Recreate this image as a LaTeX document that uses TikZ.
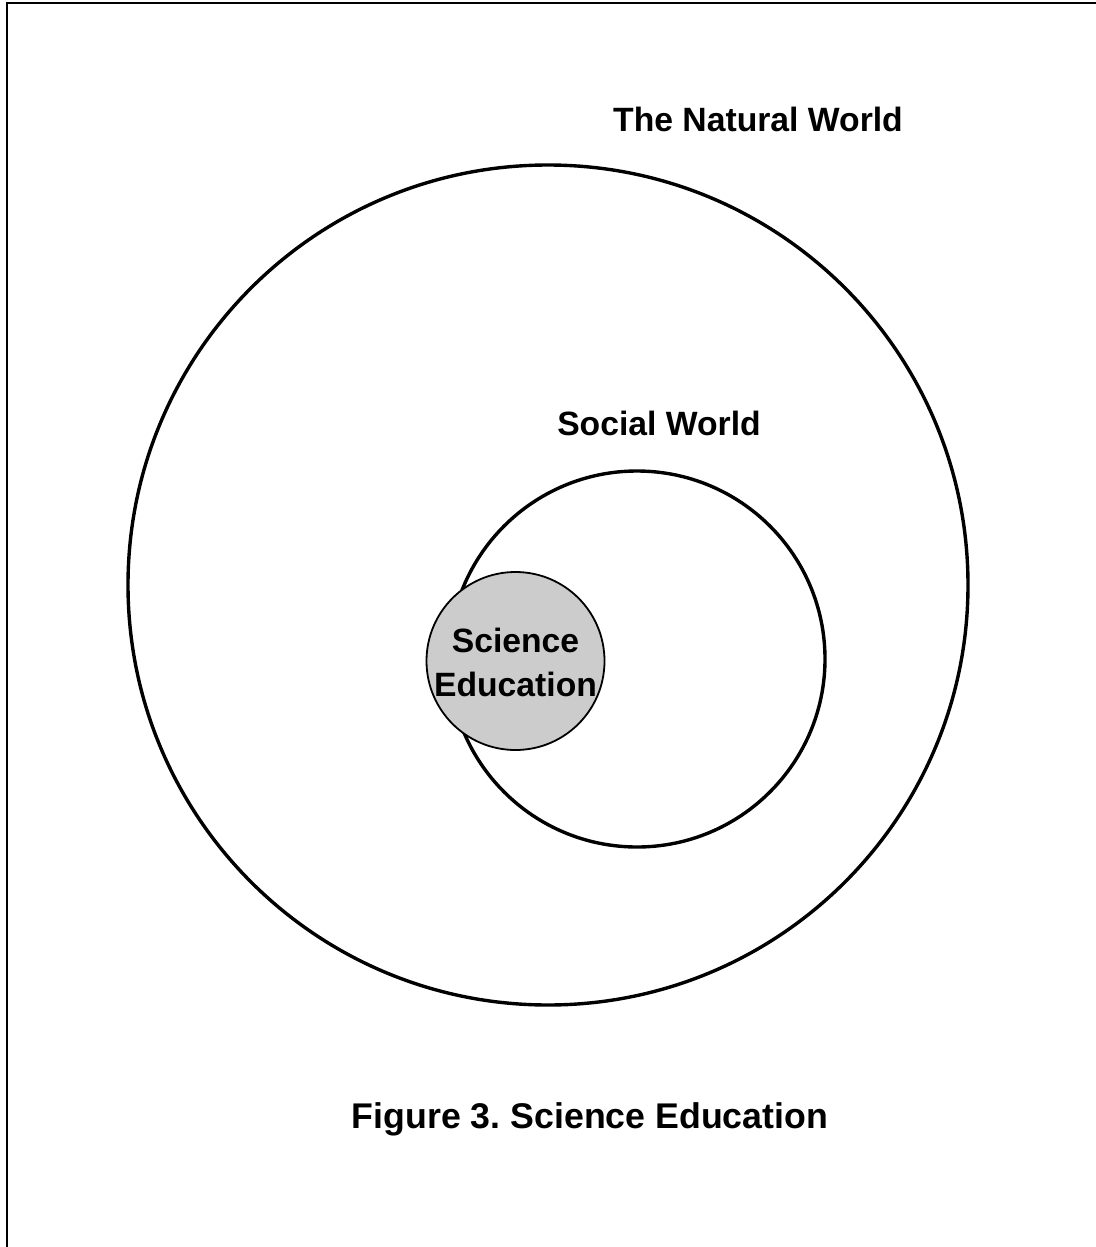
\documentclass[tikz,border=0pt]{standalone}
\usepackage{fontspec}
\setmainfont{Liberation Sans}
\usepackage{tikz}
\usetikzlibrary{calc}
\frenchspacing

\begin{document}
\begin{tikzpicture}[x=0.5pt,y=-0.5pt,
	label text/.style={inner sep=0pt, anchor=base, font=\bfseries\fontsize{16.85}{22}\selectfont}]
	
	\useasboundingbox (0,0) rectangle (1096,1247);
	
	\coordinate (natural) at (548,585);
	\coordinate (social) at (637,659);
	\coordinate (scied) at (515.5,661);
	
	% frame
	\draw[line width=1pt] (6.5,1247) -- (6.5,3) -- (1096,3);
	
	\draw[line width=1.7pt] (natural) circle[radius=210pt];
	\draw[line width=1.7pt] (social) circle[radius=94pt];
	\draw[line width=0.9pt, fill=black!20] (scied) circle[radius=44.5pt];
	
	\node[label text] (naturallabel) at (758,132) {The Natural World};
	\node[label text] (sociallabel) at (659,435) {Social World};
	\node[label text, align=center] (sciedlabel) at (515.5,696) {Science\\Education};
	\node[label text, font=\bfseries\fontsize{17.85}{22}\selectfont] (caption) at (590,1128) {Figure 3. Science Education};
	
\end{tikzpicture}
\end{document}
